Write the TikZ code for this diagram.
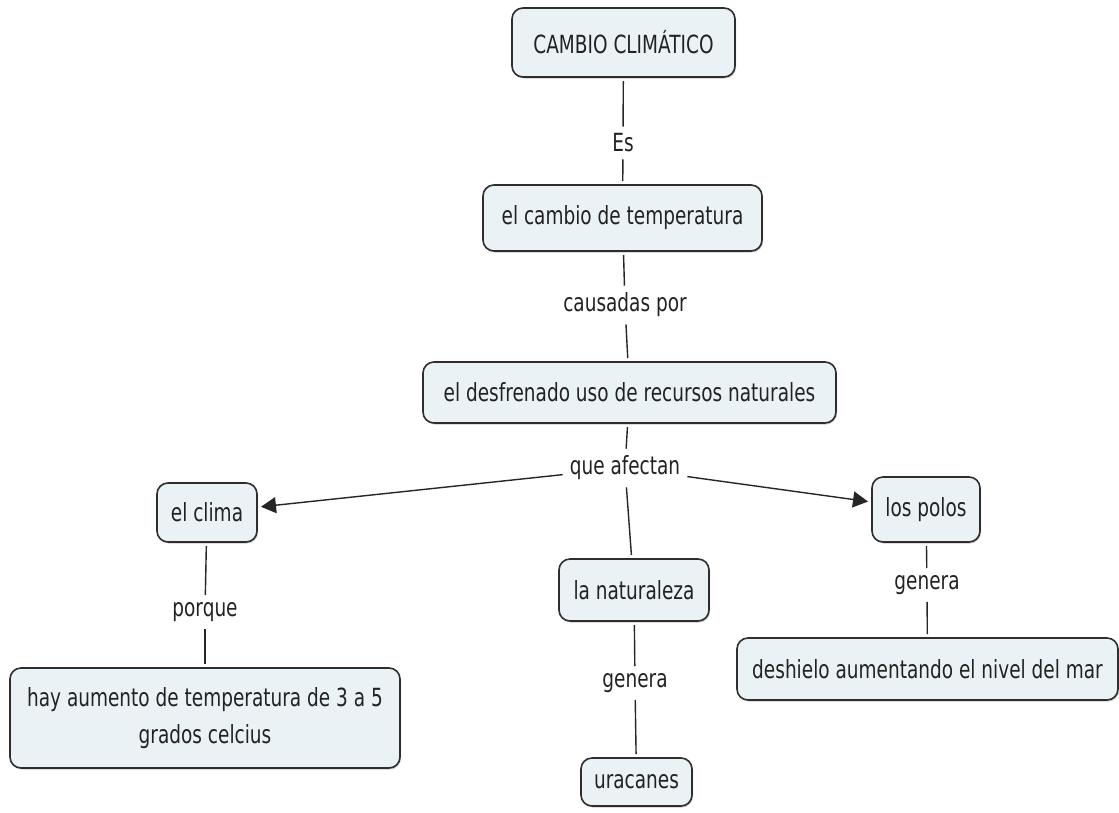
\documentclass[tikz,border=0pt]{standalone}
\usepackage{fontspec}
\setmainfont{DejaVu Sans}[FakeStretch=0.74]
\usetikzlibrary{arrows.meta,shadows}
\definecolor{conceptfill}{HTML}{EBF2F5}
\definecolor{conceptline}{HTML}{2E2E2E}
\definecolor{inktext}{HTML}{222222}
\tikzset{
  concept/.style={draw=conceptline, line width=1.6pt, fill=conceptfill,
    rounded corners=11pt, inner sep=0pt, outer sep=4pt, text=inktext,
    font=\fontsize{25}{37}\selectfont, align=center,
    drop shadow={shadow xshift=1pt, shadow yshift=-1.5pt, opacity=0.35, fill=black!60}},
  linkword/.style={inner xsep=7pt, inner ysep=7pt, text=inktext,
    font=\fontsize{25}{30}\selectfont},
  link/.style={draw=black!85, line width=1.4pt},
  arrowlink/.style={link, -{Triangle[length=15pt,width=16pt]}}
}
\begin{document}
\begin{tikzpicture}[x=1pt,y=-1pt]
\useasboundingbox[fill=white] (0,0) rectangle (1119,812);

% concepts
\node[concept, minimum width=223pt, minimum height=69pt] (cc)    at (623.5,42.5) {CAMBIO CLIMÁTICO};
\node[concept, minimum width=279pt, minimum height=66pt] (temp)  at (622.5,218)  {el cambio de temperatura};
\node[concept, minimum width=413pt, minimum height=61pt] (uso)   at (629.5,392.5) {el desfrenado uso de recursos naturales};
\node[concept, minimum width=100pt, minimum height=59pt] (clima) at (207,512.5)  {el clima};
\node[concept, minimum width=108pt, minimum height=65pt] (polos) at (926,509.5)  {los polos};
\node[concept, minimum width=150pt, minimum height=62pt] (nat)   at (634,590)    {la naturaleza};
\node[concept, minimum width=390pt, minimum height=100pt] (hay)  at (205,718)    {hay aumento de temperatura de 3 a 5\\grados celcius};
\node[concept, minimum width=381pt, minimum height=62pt] (desh)  at (927.5,669)  {deshielo aumentando el nivel del mar};
\node[concept, minimum width=111pt, minimum height=48pt] (ura)   at (636.5,782)  {uracanes};

% linking phrases
\node[linkword] (es)    at (623,143) {Es};
\node[linkword] (caus)  at (625,305) {causadas por};
\node[linkword] (afect) at (625,468) {que afectan};
\node[linkword] (porq)  at (205,612) {porque};
\node[linkword] (gen1)  at (635,683) {genera};
\node[linkword] (gen2)  at (927,585) {genera};

% connections
\draw[link] (cc) -- (es);
\draw[link] (es) -- (temp);
\draw[link] (temp) -- (caus);
\draw[link] (caus) -- (uso);
\draw[link] (uso) -- (afect);
\draw[arrowlink] (afect) -- (clima);
\draw[arrowlink] (afect) -- (polos);
\draw[link] (afect) -- (nat);
\draw[link] (clima) -- (porq);
\draw[link] (porq) -- (hay);
\draw[link] (nat) -- (gen1);
\draw[link] (gen1) -- (ura);
\draw[link] (polos) -- (gen2);
\draw[link] (gen2) -- (desh);
\end{tikzpicture}
\end{document}
